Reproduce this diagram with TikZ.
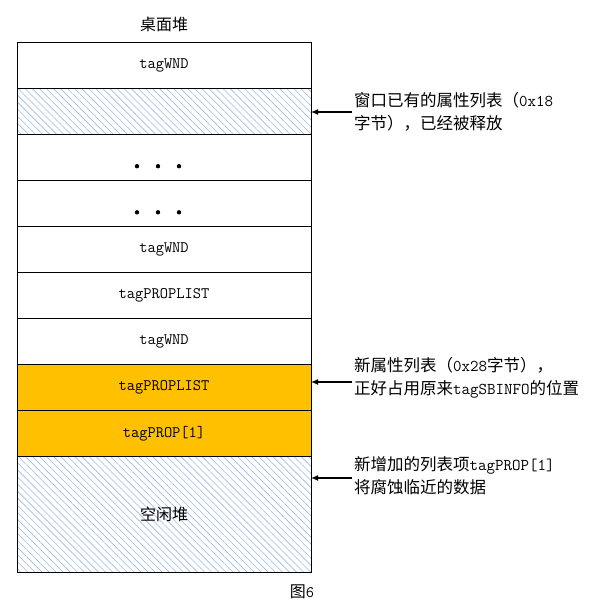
\documentclass[tikz,border=0pt]{standalone}
\usepackage{fontspec}
\setmainfont{Noto Sans CJK SC}
\usepackage{tikz}
\usetikzlibrary{arrows.meta,positioning,calc,patterns.meta}
\definecolor{heapgold}{RGB}{255,192,0}
\definecolor{heaphatch}{RGB}{155,185,230}

\begin{document}
\begin{tikzpicture}[x=1pt,y=-1pt,
  blk/.style={rectangle,draw,line width=0.8pt,minimum width=294pt,minimum height=46.1pt,inner sep=0pt,outer sep=0pt,font=\fontsize{16}{19}\selectfont},
  freed/.style={blk,pattern={Lines[angle=-45,distance=5pt,line width=0.6pt]},pattern color=heaphatch},
  note/.style={anchor=west,align=left,inner sep=2pt,font=\fontsize{16.5}{23}\selectfont},
  arr/.style={-{Latex[length=7pt,width=6pt]},line width=1.4pt}
]
\useasboundingbox (0,0) rectangle (604,615);
% heap blocks, top to bottom
\node[blk] (r1) at (164,65) {\texttt{tagWND}};
\node[freed,below=0pt of r1] (r2) {};
\node[blk,below=0pt of r2] (r3) {};
\node[blk,below=0pt of r3] (r4) {};
\node[blk,below=0pt of r4] (r5) {\texttt{tagWND}};
\node[blk,below=0pt of r5] (r6) {\texttt{tagPROPLIST}};
\node[blk,below=0pt of r6] (r7) {\texttt{tagWND}};
\node[blk,fill=heapgold,below=0pt of r7] (r8) {\texttt{tagPROPLIST}};
\node[blk,fill=heapgold,below=0pt of r8] (r9) {\texttt{tagPROP[1]}};
\node[freed,minimum height=116pt,below=0pt of r9] (r10) {\raisebox{-6pt}{空闲堆}};
\foreach \r in {r3,r4}
  \foreach \dx in {-27,-6,15}
    \fill ($(\r)+(\dx,9)$) circle (2.2pt);
\node[font=\fontsize{16}{19}\selectfont,above=7pt of r1] (title) {桌面堆};
\node[font=\fontsize{16}{19}\selectfont] (cap) at (302,592) {图\texttt{6}};
% notes
\node[note] (n1) at (352,112) {窗口已有的属性列表（\texttt{0x18}\\字节），已经被释放};
\node[note] (n2) at (352,378) {新属性列表（\texttt{0x28}字节），\\正好占用原来\texttt{tagSBINFO}的位置};
\node[note] (n3) at (352,476) {新增加的列表项\texttt{tagPROP[1]}\\将腐蚀临近的数据};
\draw[arr] (n1.west) -- (n1.west -| r2.east);
\draw[arr] ($(n2.west)+(0,4)$) -- ($(n2.west -| r8.east)+(0,4)$);
\draw[arr] ($(n3.west)+(0,2)$) -- ($(n3.west -| r10.east)+(0,2)$);
\end{tikzpicture}
\end{document}
